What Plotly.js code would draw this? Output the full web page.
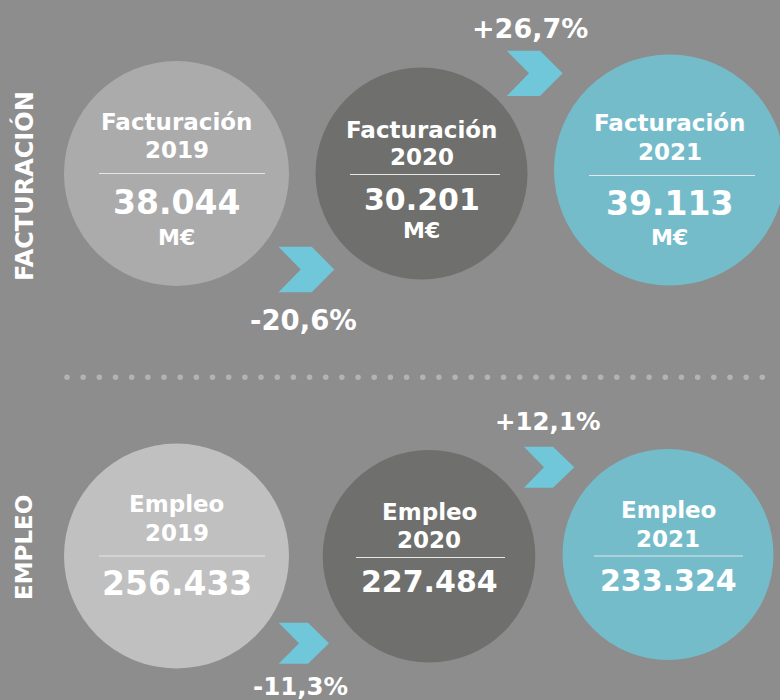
<!DOCTYPE html>
<html>
<head>
<meta charset="utf-8">
<script src="https://cdn.plot.ly/plotly-3.0.1.min.js"></script>
<style>html,body{margin:0;padding:0;background:#8d8d8d;}#chart{width:780px;height:700px;}</style>
</head>
<body>
<div id="chart"></div>
<script>
// ---- data ----
var years = ["2019", "2020", "2021"];
var facturacionLabels = ["38.044", "30.201", "39.113"];
var facturacionUnit = "M€";
var empleoLabels = ["256.433", "227.484", "233.324"];
var facturacionChange = ["-20,6%", "+26,7%"];
var empleoChange = ["-11,3%", "+12,1%"];
var sectionTitles = ["FACTURACIÓN", "EMPLEO"];
var metricNames = ["Facturación", "Empleo"];

// ---- layout / style ----
var FONT = "DejaVu Sans, Verdana, sans-serif";
var BG = "#8d8d8d";
var circleColors = [["#ababab", "#6f6f6d", "#75bccb"], ["#c0c0c0", "#6f6f6d", "#75bccb"]];
var CHEV = "#6fc7d9";
// circle geometry [cx, cy, r]
var circles = [
  [[176.5, 173.5, 112.5], [421.5, 173.5, 106], [669.5, 170, 115.5]],
  [[176.5, 556, 112.5], [429, 556.3, 106.3], [668, 554.5, 105.5]]
];
// text y per circle: [name, year, line, value, unit]
var textY = [
  [[121.5, 150, 173.5, 202, 237], [129.5, 156.5, 174.5, 199.5, 230], [123, 151.5, 175.5, 203.5, 237.5]],
  [[504, 532.5, 556, 583.5], [511.5, 539.5, 557.5, 581.5], [510, 538.5, 556, 580.5]]
];
var lineX = [
  [[99, 265], [350, 500], [589, 755]],
  [[99, 265], [356, 505], [594, 743]]
];
var valueSize = [[33, 30, 33], [33, 30, 30]];
// chevrons [x0, yTop, yBottom, xTopRight, xTip, xNotch]
var chevrons = [
  [[278.5, 246.7, 292.3, 311.7, 334.3, 300.7], [506.7, 50.7, 96, 540, 562.7, 529]],
  [[278.7, 622.7, 663.7, 308, 329, 299], [524, 446.7, 487.7, 553, 574.3, 544]]
];
var changePos = [
  [[303, 320, 27.5], [530, 28, 27]],
  [[300, 686, 24.5], [548, 421.7, 24.5]]
];
var sidePos = [[24, 186, 24], [24, 548, 23]];

var shapes = [];
var annotations = [];

function ann(x, y, text, size, extra) {
  var a = {x: x, y: y, xref: "x", yref: "y", text: text, showarrow: false,
    xanchor: "center", yanchor: "middle", borderpad: 0,
    font: {family: FONT, size: size, color: "#ffffff", weight: 700}};
  if (extra) for (var k in extra) a[k] = extra[k];
  annotations.push(a);
}

for (var row = 0; row < 2; row++) {
  var values = row === 0 ? facturacionLabels : empleoLabels;
  var changes = row === 0 ? facturacionChange : empleoChange;
  for (var i = 0; i < 3; i++) {
    var c = circles[row][i];
    shapes.push({type: "circle", xref: "x", yref: "y", x0: c[0] - c[2], x1: c[0] + c[2],
      y0: c[1] - c[2], y1: c[1] + c[2], fillcolor: circleColors[row][i], line: {width: 0}, layer: "below"});
    var ty = textY[row][i];
    ann(c[0], ty[0], metricNames[row], 23);
    ann(c[0], ty[1], years[i], 23);
    shapes.push({type: "line", xref: "x", yref: "y", x0: lineX[row][i][0], x1: lineX[row][i][1],
      y0: ty[2], y1: ty[2], line: {color: "#e6e6e6", width: 1.2}});
    ann(c[0], ty[3], values[i], valueSize[row][i]);
    if (row === 0) ann(c[0], ty[4], facturacionUnit, 22);
  }
  for (var j = 0; j < 2; j++) {
    var ch = chevrons[row][j];
    var ym = (ch[1] + ch[2]) / 2;
    var p = "M" + ch[0] + "," + ch[1] + " L" + ch[3] + "," + ch[1] + " L" + ch[4] + "," + ym +
      " L" + ch[3] + "," + ch[2] + " L" + ch[0] + "," + ch[2] + " L" + ch[5] + "," + ym + " Z";
    shapes.push({type: "path", xref: "x", yref: "y", path: p, fillcolor: CHEV, line: {width: 0}});
    var cp = changePos[row][j];
    ann(cp[0], cp[1], changes[j], cp[2]);
  }
  var sp = sidePos[row];
  ann(sp[0], sp[1], sectionTitles[row], sp[2], {textangle: -90});
}

// dotted separator
var dotX = [], dotY = [];
for (var d = 0; d < 44; d++) { dotX.push(67 + d * 16.17); dotY.push(377.3); }

var traces = [{
  x: dotX, y: dotY, mode: "markers", type: "scatter", hoverinfo: "skip",
  marker: {size: 5.5, color: "#b3b3b3", line: {width: 0}}
}];

var layout = {
  width: 780, height: 700,
  margin: {l: 0, r: 0, t: 0, b: 0},
  paper_bgcolor: BG, plot_bgcolor: BG,
  showlegend: false,
  xaxis: {range: [0, 780], visible: false, fixedrange: true},
  yaxis: {range: [700, 0], visible: false, fixedrange: true},
  shapes: shapes,
  annotations: annotations
};

Plotly.newPlot("chart", traces, layout, {displayModeBar: false, staticPlot: true});
</script>
</body>
</html>
